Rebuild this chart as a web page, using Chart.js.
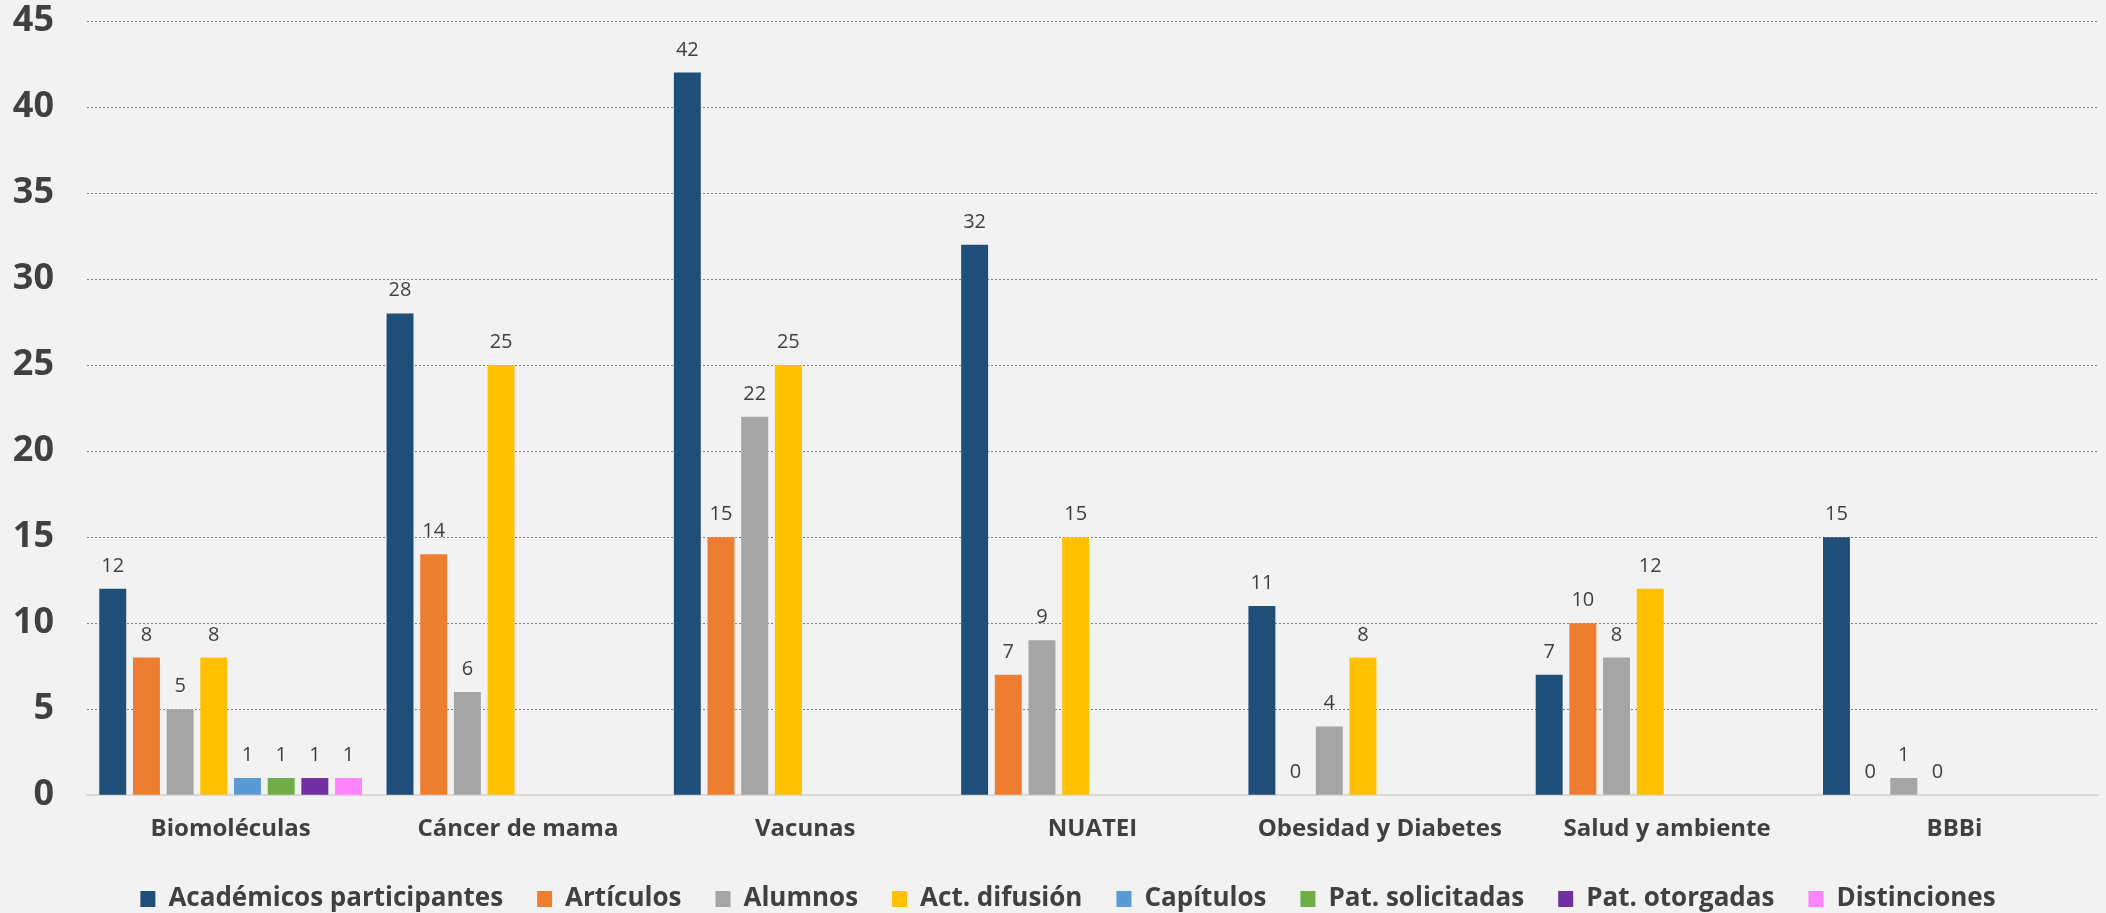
<!DOCTYPE html>
<html>
<head>
<meta charset="utf-8">
<script src="https://cdn.jsdelivr.net/npm/chart.js@4"></script>
<style>
  html, body { margin: 0; padding: 0; background: #f2f2f2; }
  #wrap { width: 2106px; height: 913px; }
</style>
</head>
<body>
<div id="wrap"><canvas id="chart" width="2106" height="913"></canvas></div>
<script>
  // Data
  const categories = ['Biomoléculas', 'Cáncer de mama', 'Vacunas', 'NUATEI', 'Obesidad y Diabetes', 'Salud y ambiente', 'BBBi'];
  const academicos = [12, 28, 42, 32, 11, 7, 15];
  const articulos = [8, 14, 15, 7, 0, 10, 0];
  const alumnos = [5, 6, 22, 9, 4, 8, 1];
  const difusion = [8, 25, 25, 15, 8, 12, 0];
  const capitulos = [1, null, null, null, null, null, null];
  const patSolicitadas = [1, null, null, null, null, null, null];
  const patOtorgadas = [1, null, null, null, null, null, null];
  const distinciones = [1, null, null, null, null, null, null];
  const yTicks = [0, 5, 10, 15, 20, 25, 30, 35, 40, 45];

  const textColor = '#404040';

  // value labels above bars
  const barLabels = {
    id: 'barLabels',
    afterDatasetsDraw(chart) {
      const ctx = chart.ctx;
      ctx.save();
      ctx.font = '20px "Open Sans"';
      ctx.fillStyle = textColor;
      ctx.textAlign = 'center';
      ctx.textBaseline = 'alphabetic';
      chart.data.datasets.forEach((ds, i) => {
        const meta = chart.getDatasetMeta(i);
        meta.data.forEach((bar, j) => {
          const v = ds.data[j];
          if (v === null || v === undefined) return;
          ctx.fillText(String(v), bar.x, bar.y - 17);
        });
      });
      ctx.restore();
    }
  };

  // nudge the legend row without touching the layout
  const legendShift = {
    id: 'legendShift',
    afterLayout(chart) {
      chart.legend.top -= 12;
      chart.legend.bottom -= 12;
      chart.legend.left += 19;
      chart.legend.right += 19;
    }
  };

  const ctx = document.getElementById('chart').getContext('2d');
  new Chart(ctx, {
    type: 'bar',
    data: {
      labels: categories,
      datasets: [
        { label: 'Académicos participantes', data: academicos, backgroundColor: '#1f4e79' },
        { label: 'Artículos', data: articulos, backgroundColor: '#ed7d31' },
        { label: 'Alumnos', data: alumnos, backgroundColor: '#a5a5a5' },
        { label: 'Act. difusión', data: difusion, backgroundColor: '#ffc000' },
        { label: 'Capítulos', data: capitulos, backgroundColor: '#5b9bd5' },
        { label: 'Pat. solicitadas', data: patSolicitadas, backgroundColor: '#70ad47' },
        { label: 'Pat. otorgadas', data: patOtorgadas, backgroundColor: '#7030a0' },
        { label: 'Distinciones', data: distinciones, backgroundColor: '#ff85ff' }
      ]
    },
    options: {
      responsive: false,
      animation: false,
      layout: { padding: { left: 0, right: 8, top: 21, bottom: -21 } },
      datasets: {
        bar: { categoryPercentage: 0.938, barPercentage: 0.8 }
      },
      scales: {
        x: {
          grid: { display: false, drawTicks: false },
          border: { display: true, color: '#d9d9d9', width: 2 },
          ticks: {
            color: textColor,
            padding: 20,
            font: { family: 'Open Sans', size: 24, weight: 'bold' }
          }
        },
        y: {
          min: 0,
          max: 45,
          afterBuildTicks: (axis) => { axis.ticks = yTicks.map(v => ({ value: v })); },
          afterFit: (axis) => {
            axis.width = 87;
            axis.paddingTop = 0;
            axis.paddingBottom = 0;
          },
          grid: {
            drawTicks: false,
            color: (c) => c.tick && c.tick.value === 0 ? 'rgba(0,0,0,0)' : '#808080',
            lineWidth: 1
          },
          border: { display: false, dash: [2, 2] },
          ticks: {
            color: textColor,
            padding: 33,
            font: { family: 'Open Sans', size: 36, weight: 'bold' }
          }
        }
      },
      plugins: {
        legend: {
          position: 'bottom',
          labels: {
            color: textColor,
            boxWidth: 15,
            boxHeight: 16,
            padding: 34,
            font: { family: 'Open Sans', size: 26, weight: 'bold' }
          }
        },
        tooltip: { enabled: false }
      }
    },
    plugins: [barLabels, legendShift]
  });
</script>
</body>
</html>
